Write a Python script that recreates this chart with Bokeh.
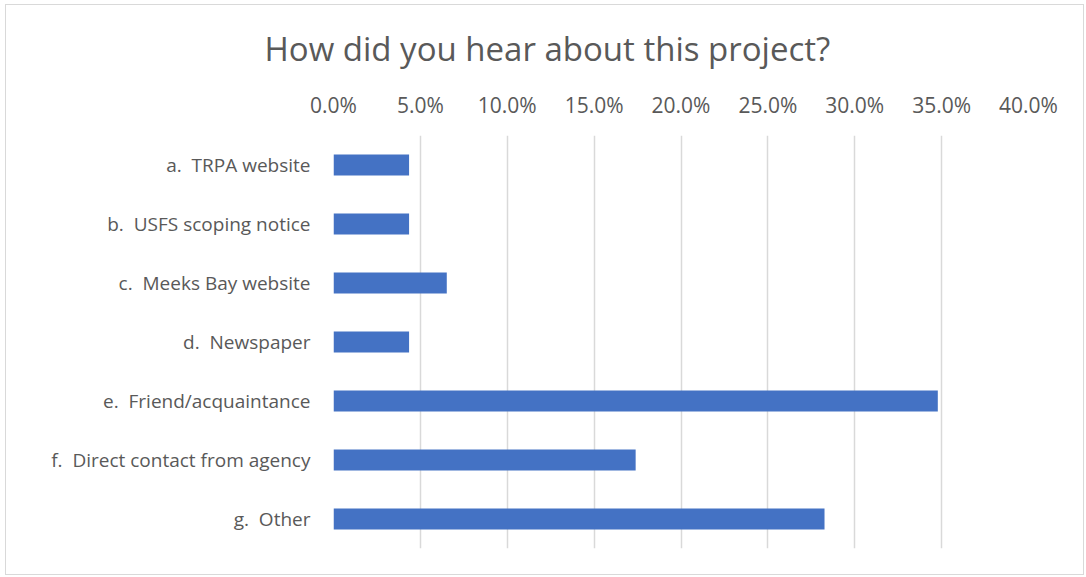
from bokeh.plotting import figure
from bokeh.models import FactorRange, Range1d, FixedTicker, NumeralTickFormatter, ColumnDataSource, Title
from bokeh.embed import file_html
from bokeh.resources import INLINE

S = "\u00a0 "
categories = ["a." + S + "TRPA website", "b." + S + "USFS scoping notice", "c." + S + "Meeks Bay website",
              "d." + S + "Newspaper", "e." + S + "Friend/acquaintance", "f." + S + "Direct contact from agency",
              "g." + S + "Other"]
values = [0.0435, 0.0435, 0.0652, 0.0435, 0.3478, 0.1739, 0.2826]
ticks = [0.0, 0.05, 0.10, 0.15, 0.20, 0.25, 0.30, 0.35, 0.40]

FONT = "Open Sans"
GRAY = "#595959"

src = ColumnDataSource(dict(cat=categories, val=values))

p = figure(width=1079, height=571, output_backend="svg", toolbar_location=None,
           y_range=FactorRange(factors=list(reversed(categories))),
           x_range=Range1d(0, 0.4), x_axis_location="above",
           min_border_left=327, min_border_right=57, min_border_top=130, min_border_bottom=28)
p.styles = {"position": "absolute", "left": "5px", "top": "4px", "border": "1px solid #d9d9d9"}

t = Title(text="How did you hear about this project?", text_font=FONT, text_font_size="33px",
          text_color=GRAY, text_font_style="normal", align="left", offset=-69, standoff=34)
p.add_layout(t, "above")

p.hbar(y="cat", right="val", left=0, height=0.36, source=src, fill_color="#4472C4", line_color=None)

p.outline_line_color = None
p.xaxis.ticker = FixedTicker(ticks=ticks)
p.xaxis.formatter = NumeralTickFormatter(format="0.0%")
for ax in (p.xaxis, p.yaxis):
    ax.axis_line_color = None
    ax.major_tick_line_color = None
    ax.minor_tick_line_color = None
    ax.major_label_text_font = FONT
    ax.major_label_text_color = GRAY
p.xaxis.major_label_text_font_size = "21px"
p.yaxis.major_label_text_font_size = "19px"
p.xaxis.major_label_standoff = 11
p.yaxis.major_label_standoff = 17
p.xgrid.ticker = FixedTicker(ticks=ticks)
p.xgrid.grid_line_color = "#d9d9d9"
p.xgrid.grid_line_width = 1.5
p.ygrid.grid_line_color = None

open("out.html", "w").write(file_html(p, INLINE))
